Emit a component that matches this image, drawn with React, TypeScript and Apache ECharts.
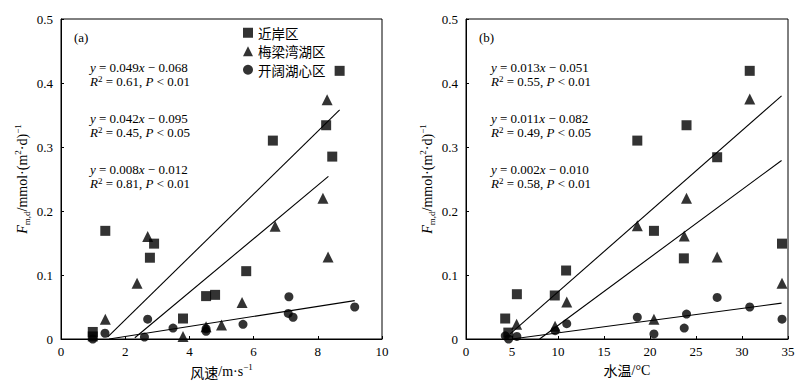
import React, { useEffect, useRef } from "react";
import * as echarts from "echarts";

// ---- data ----
const seriesNames = ["近岸区", "梅梁湾湖区", "开阔湖心区"];

// (a) wind speed (m/s) vs flux
const windNearshore = [[0.99, 0.011], [0.99, 0.004], [1.38, 0.169], [2.77, 0.127], [2.9, 0.149], [3.8, 0.032], [4.52, 0.067], [4.8, 0.069], [5.77, 0.106], [6.6, 0.31], [8.26, 0.334], [8.45, 0.285], [8.68, 0.419]];
const windMeiliang = [[1.38, 0.031], [2.37, 0.087], [2.7, 0.16], [3.8, 0.004], [4.52, 0.019], [5.0, 0.022], [5.64, 0.057], [6.67, 0.176], [8.16, 0.22], [8.32, 0.128], [8.29, 0.374]];
const windOpen = [[0.99, 0.0], [1.37, 0.009], [2.6, 0.003], [2.7, 0.031], [3.49, 0.017], [4.52, 0.012], [4.52, 0.016], [5.67, 0.023], [7.1, 0.066], [7.08, 0.04], [7.23, 0.034], [9.15, 0.05]];
const windFitNearshore = [[1.45, 0.003], [8.68, 0.358]];
const windFitMeiliang = [[2.3, 0.002], [8.33, 0.254]];
const windFitOpen = [[1.5, 0.0], [9.15, 0.06]];

// (b) water temperature (°C) vs flux
const tempNearshore = [[4.26, 0.032], [4.6, 0.01], [5.53, 0.07], [9.65, 0.068], [10.88, 0.107], [18.62, 0.31], [20.43, 0.169], [23.68, 0.126], [23.97, 0.334], [27.3, 0.284], [30.84, 0.419], [34.35, 0.149]];
const tempMeiliang = [[5.5, 0.023], [9.68, 0.02], [10.95, 0.058], [18.62, 0.177], [20.43, 0.031], [23.72, 0.161], [23.97, 0.22], [27.3, 0.128], [30.84, 0.375], [34.35, 0.087]];
const tempOpen = [[4.27, 0.005], [4.63, 0.0], [5.53, 0.004], [9.69, 0.013], [10.95, 0.024], [18.62, 0.034], [20.43, 0.008], [23.72, 0.017], [23.97, 0.039], [27.3, 0.065], [30.84, 0.05], [34.35, 0.031]];
const tempFitNearshore = [[4.8, 0.008], [34.3, 0.38]];
const tempFitMeiliang = [[8.0, 0.0], [34.3, 0.279]];
const tempFitOpen = [[5.0, 0.0], [34.3, 0.056]];

const windEquations = [
  ["0.049", "0.068", "0.61", "0.01"],
  ["0.042", "0.095", "0.45", "0.05"],
  ["0.008", "0.012", "0.81", "0.01"],
];
const tempEquations = [
  ["0.013", "0.051", "0.55", "0.01"],
  ["0.011", "0.082", "0.49", "0.05"],
  ["0.002", "0.010", "0.58", "0.01"],
];

const serif = "'Liberation Serif', 'Times New Roman', serif";
const cjk = "'Noto Sans CJK SC', sans-serif";

const mathRich = {
  i: { fontFamily: serif, fontStyle: "italic", fontSize: 13, color: "#000", lineHeight: 14, verticalAlign: "middle" },
  t: { fontFamily: serif, fontSize: 13, color: "#000", lineHeight: 14, verticalAlign: "middle" },
  sup: { fontFamily: serif, fontSize: 9, color: "#000", verticalAlign: "top", lineHeight: 14 },
};

function equationTexts(eqs: string[][], x: number) {
  const rows = [74, 125, 176];
  return eqs.map((e, k) => ({
    type: "text",
    x,
    y: rows[k],
    style: {
      text:
        `{i|y}{t| = ${e[0]}}{i|x}{t| − ${e[1]}}\n` +
        `{i|R}{sup|2}{t| = ${e[2]}, }{i|P}{t| < ${e[3]}}`,
      rich: mathRich,
      verticalAlign: "middle",
      fill: "#000",
    },
  }));
}

const yName = "{f|F}{sub|m,d}{t|/mmol·(m}{sup|2}{t|·d)}{sup|−1}";
const yNameRich = {
  f: { fontFamily: serif, fontStyle: "italic", fontSize: 14, color: "#000", lineHeight: 18, verticalAlign: "middle" },
  t: { fontFamily: serif, fontSize: 14, color: "#000", lineHeight: 18, verticalAlign: "middle" },
  sub: { fontFamily: serif, fontSize: 9, color: "#000", lineHeight: 18, verticalAlign: "bottom" },
  sup: { fontFamily: serif, fontSize: 9, color: "#000", lineHeight: 18, verticalAlign: "top" },
};

function xAxisCfg(grid: number, max: number, interval: number, name: string) {
  return {
    gridIndex: grid,
    type: "value",
    min: 0,
    max,
    interval,
    axisLine: { show: true, lineStyle: { color: "#000", width: 1 } },
    axisTick: { show: true, inside: true, length: 3, lineStyle: { color: "#000" } },
    axisLabel: { color: "#000", fontFamily: serif, fontSize: 13, margin: 6 },
    splitLine: { show: false },
    name,
    nameLocation: "middle",
    nameGap: 22,
    nameTextStyle: {
      rich: {
        c: { fontFamily: cjk, fontSize: 14, color: "#000", lineHeight: 18, verticalAlign: "middle" },
        t: { fontFamily: serif, fontSize: 14, color: "#000", lineHeight: 18, verticalAlign: "middle" },
        sup: { fontFamily: serif, fontSize: 9, color: "#000", lineHeight: 18, verticalAlign: "top" },
      },
    },
  };
}

function yAxisCfg(grid: number) {
  return {
    gridIndex: grid,
    type: "value",
    min: 0,
    max: 0.5,
    interval: 0.1,
    axisLine: { show: true, lineStyle: { color: "#000", width: 1 } },
    axisTick: { show: true, inside: true, length: 3, lineStyle: { color: "#000" } },
    axisLabel: { color: "#000", fontFamily: serif, fontSize: 13, margin: 8 },
    splitLine: { show: false },
    name: yName,
    nameLocation: "middle",
    nameGap: 30,
    nameTextStyle: { rich: yNameRich },
  };
}

function scatter(name: string, data: number[][], idx: number, symbol: string, size: number) {
  return {
    type: "scatter",
    name,
    data,
    xAxisIndex: idx,
    yAxisIndex: idx,
    symbol,
    symbolSize: size,
    itemStyle: { color: "#000" },
    z: 3,
  };
}

function fit(data: number[][], idx: number) {
  return {
    type: "line",
    data,
    xAxisIndex: idx,
    yAxisIndex: idx,
    showSymbol: false,
    symbol: "none",
    lineStyle: { color: "#000", width: 1.1 },
    silent: true,
    z: 2,
  };
}

export default function App() {
  const ref = useRef<HTMLDivElement>(null);
  useEffect(() => {
    if (!ref.current) return;
    const chart = echarts.init(ref.current, undefined, { renderer: "svg" });
    const option: any = {
      animation: false,
      backgroundColor: "#fff",
      grid: [
        { left: 61, top: 19, width: 321, height: 320, show: true, borderColor: "#000", borderWidth: 1, backgroundColor: "transparent" },
        { left: 466, top: 19, width: 322, height: 320, show: true, borderColor: "#000", borderWidth: 1, backgroundColor: "transparent" },
      ],
      xAxis: [
        xAxisCfg(0, 10, 2, "{c|风速}{t|/m·s}{sup|−1}"),
        xAxisCfg(1, 35, 5, "{c|水温}{t|/°C}"),
      ],
      yAxis: [yAxisCfg(0), yAxisCfg(1)],
      legend: {
        data: [
          { name: seriesNames[0], icon: "rect" },
          { name: seriesNames[1], icon: "triangle" },
          { name: seriesNames[2], icon: "circle" },
        ],
        orient: "vertical",
        left: 243,
        top: 26,
        itemWidth: 10,
        itemHeight: 10,
        itemGap: 5,
        padding: 0,
        textStyle: { fontFamily: cjk, fontSize: 13.5, color: "#000" },
        selectedMode: false,
      },
      graphic: [
        { type: "text", x: 74, y: 37, style: { text: "(a)", font: `13px ${serif}`, fill: "#000", verticalAlign: "middle" } },
        { type: "text", x: 479, y: 37, style: { text: "(b)", font: `13px ${serif}`, fill: "#000", verticalAlign: "middle" } },
        ...equationTexts(windEquations, 90),
        ...equationTexts(tempEquations, 491),
      ],
      series: [
        fit(windFitNearshore, 0),
        fit(windFitMeiliang, 0),
        fit(windFitOpen, 0),
        fit(tempFitNearshore, 1),
        fit(tempFitMeiliang, 1),
        fit(tempFitOpen, 1),
        scatter(seriesNames[0], windNearshore, 0, "rect", 10),
        scatter(seriesNames[1], windMeiliang, 0, "triangle", 11),
        scatter(seriesNames[2], windOpen, 0, "circle", 9),
        scatter(seriesNames[0], tempNearshore, 1, "rect", 10),
        scatter(seriesNames[1], tempMeiliang, 1, "triangle", 11),
        scatter(seriesNames[2], tempOpen, 1, "circle", 9),
      ],
    };
    chart.setOption(option);
    return () => chart.dispose();
  }, []);
  return (
    <div
      ref={ref}
      style={{ position: "fixed", left: 0, top: 0, width: 812, height: 384, background: "#fff" }}
    />
  );
}
